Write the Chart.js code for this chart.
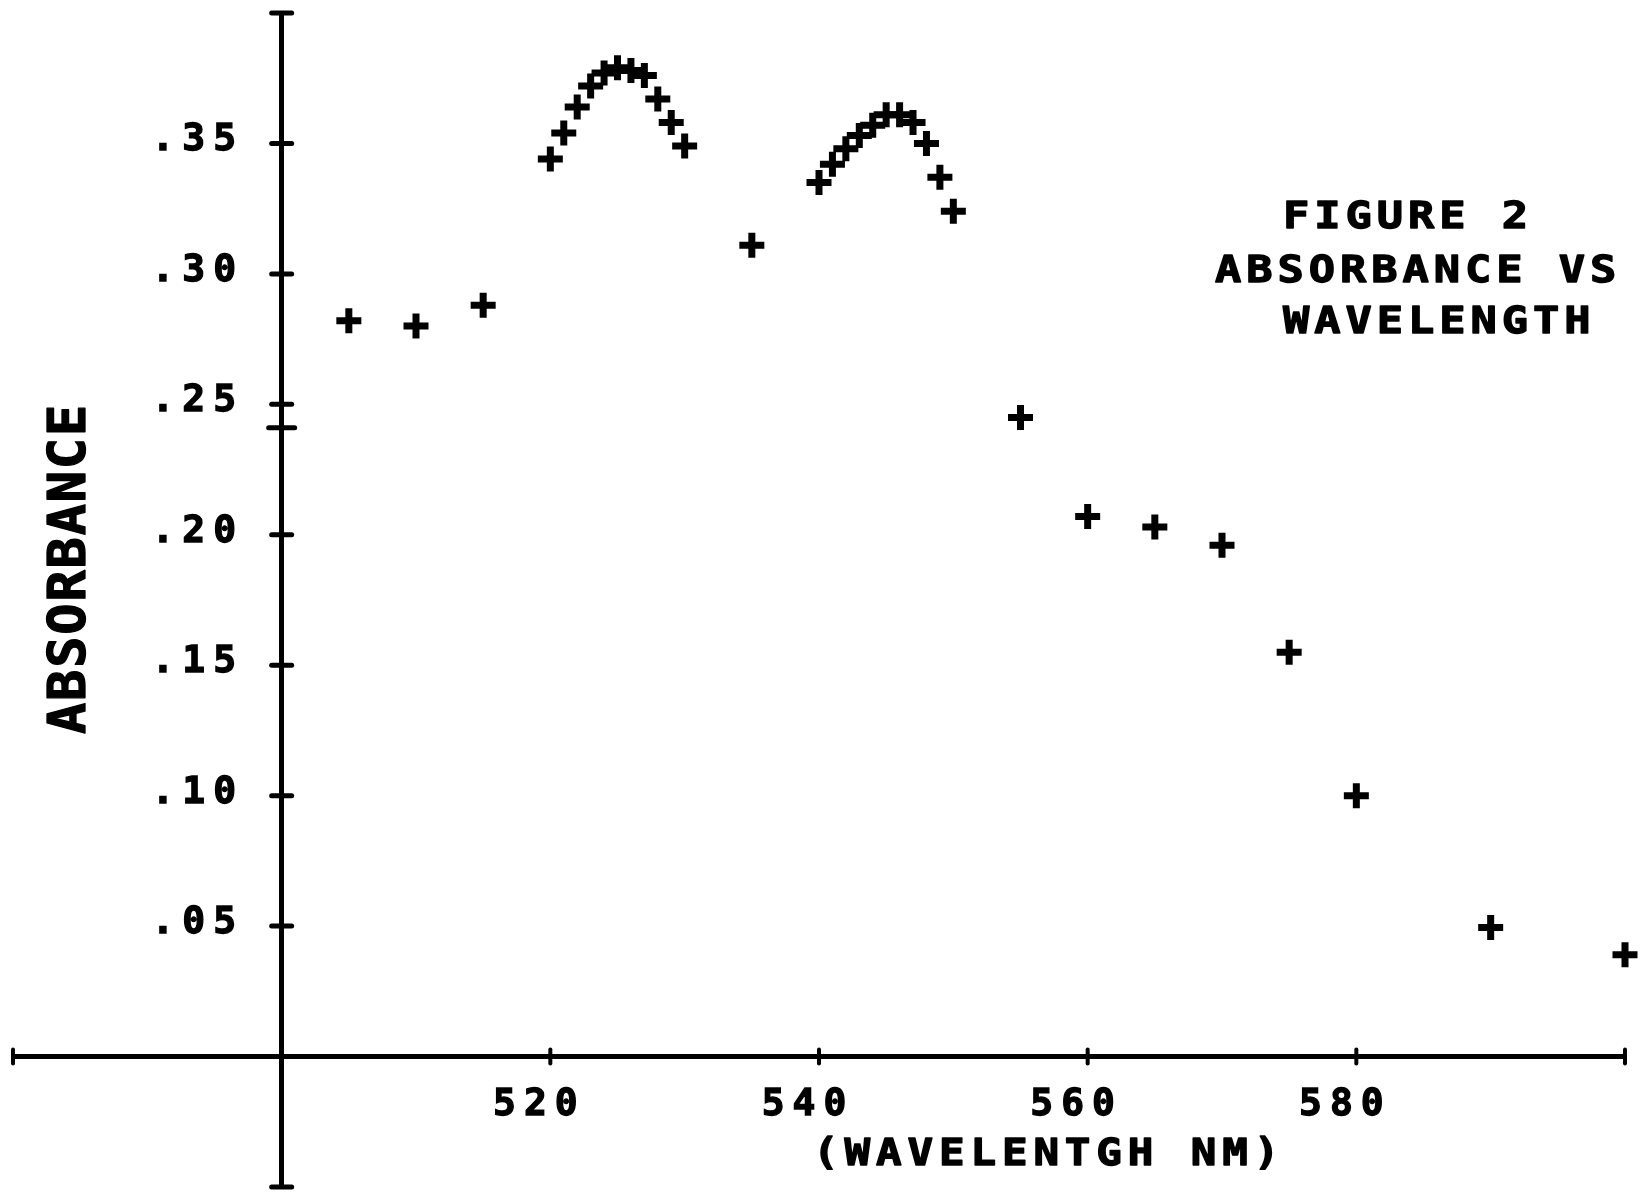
<!DOCTYPE html>
<html>
<head>
<meta charset="utf-8">
<script src="https://cdn.jsdelivr.net/npm/chart.js@4.4.1/dist/chart.umd.min.js"></script>
<style>
html,body{margin:0;padding:0;background:#fff;overflow:hidden}
#wrap{width:1649px;height:1193px;position:relative;background:#fff}
</style>
</head>
<body>
<div id="wrap"><canvas id="c"></canvas></div>
<script>
// ---- data ----
const wavelengths = [505, 510, 515, 520, 521, 522, 523, 524, 525, 526, 527, 528, 529, 530, 535,
                     540, 541, 542, 543, 544, 545, 546, 547, 548, 549, 550, 555, 560, 565, 570,
                     575, 580, 590, 600];
const absorbance  = [0.282, 0.280, 0.288, 0.344, 0.354, 0.364, 0.372, 0.377, 0.379, 0.378, 0.376, 0.367, 0.358, 0.349, 0.311,
                     0.335, 0.342, 0.348, 0.353, 0.357, 0.361, 0.361, 0.358, 0.350, 0.337, 0.324, 0.245, 0.207, 0.203, 0.196,
                     0.155, 0.100, 0.0495, 0.039];
const xTickLabels = [520, 540, 560, 580];
const yTickLabels = [0.05, 0.10, 0.15, 0.20, 0.25, 0.30, 0.35];
const xTickMarks  = [480, 520, 540, 560, 580, 600];
const yTickMarks  = [-0.05, 0.05, 0.10, 0.15, 0.20, 0.25, 0.30, 0.35, 0.40];
const yStrayMarks = [0.241];
const figureLines = ['FIGURE 2', 'ABSORBANCE VS', 'WAVELENGTH'];
const xTitle = '(WAVELENTGH NM)';
const yTitle = 'ABSORBANCE';

const FONT = '"DejaVu Sans Mono", monospace';

function plotText(ctx, str, x, y, size, sx, spacing, rot) {
  ctx.save();
  ctx.translate(x, y);
  if (rot) ctx.rotate(rot);
  ctx.scale(sx, 1);
  ctx.font = 'bold ' + size + 'px ' + FONT;
  ctx.letterSpacing = spacing + 'px';
  ctx.textAlign = 'left';
  ctx.textBaseline = 'alphabetic';
  ctx.fillStyle = '#000';
  ctx.strokeStyle = '#000';
  ctx.lineWidth = 1.3;
  ctx.lineJoin = 'round';
  ctx.fillText(str, 0, 0);
  ctx.strokeText(str, 0, 0);
  ctx.restore();
}

const plotterPlugin = {
  id: 'plotter',
  beforeDraw(chart) { chart.ctx.letterSpacing = '8px'; },
  afterDraw(chart) {
    const ctx = chart.ctx;
    const xs = chart.scales.x, ys = chart.scales.y;
    const ax = xs.getPixelForValue(500), ay = ys.getPixelForValue(0);
    ctx.save();
    ctx.strokeStyle = '#000';
    ctx.lineCap = 'round';
    ctx.lineWidth = 5;
    const seg = (x1, y1, x2, y2) => { ctx.beginPath(); ctx.moveTo(x1, y1); ctx.lineTo(x2, y2); ctx.stroke(); };
    yTickMarks.forEach(v => { const p = ys.getPixelForValue(v); seg(ax - 10, p, ax + 10, p); });
    yStrayMarks.forEach(v => { const p = ys.getPixelForValue(v); seg(ax - 13, p, ax + 13, p); });
    ctx.lineWidth = 4;
    xTickMarks.forEach(v => { const p = xs.getPixelForValue(v); seg(p, ay - 7, p, ay + 7); });
    ctx.restore();

    // annotation block
    plotText(ctx, figureLines[0], 1283, 228, 38, 1.15, 4.3);
    plotText(ctx, figureLines[1], 1215, 282, 38, 1.15, 4.3);
    plotText(ctx, figureLines[2], 1283, 333, 38, 1.15, 4.3);
    // axis titles
    plotText(ctx, xTitle, 813, 1165, 37, 1.15, 5.1);
    plotText(ctx, yTitle, 85, 734, 52, 1, 1.8, -Math.PI / 2);
  }
};

const xTickFont = { family: FONT, weight: 'bold', size: 38, lineHeight: 0.5 };
const yTickFont = { family: FONT, weight: 'bold', size: 38, lineHeight: 0.1 };

new Chart(document.getElementById('c'), {
  type: 'scatter',
  data: {
    datasets: [{
      data: wavelengths.map((w, i) => ({ x: w, y: absorbance[i] })),
      pointStyle: 'cross',
      pointRadius: 12.5,
      pointHoverRadius: 12.5,
      borderWidth: 7,
      borderColor: '#000',
      backgroundColor: '#000',
      clip: false
    }]
  },
  options: {
    responsive: true,
    maintainAspectRatio: false,
    animation: false,
    events: [],
    layout: { autoPadding: false, padding: { left: 13, right: 24, top: 13, bottom: 6 } },
    plugins: { legend: { display: false }, tooltip: { enabled: false }, title: { display: false } },
    scales: {
      x: {
        type: 'linear',
        position: { y: 0 },
        min: 480, max: 600,
        afterBuildTicks: s => { s.ticks = xTickLabels.map(v => ({ value: v })); },
        grid: { display: false },
        border: { display: true, color: '#000', width: 5 },
        ticks: {
          color: '#000', font: xTickFont, padding: 31, labelOffset: -11,
          textStrokeColor: '#000', textStrokeWidth: 1.3,
          maxRotation: 0, autoSkip: false,
          callback: v => String(v)
        }
      },
      y: {
        type: 'linear',
        position: { x: 500 },
        min: -0.05, max: 0.40,
        afterBuildTicks: s => { s.ticks = yTickLabels.map(v => ({ value: v })); },
        grid: { display: false },
        border: { display: true, color: '#000', width: 5 },
        ticks: { display: false }
      },
      yl: {
        type: 'linear',
        axis: 'y',
        position: { x: 497.2 },
        min: -0.05, max: 0.40,
        afterBuildTicks: s => { s.ticks = yTickLabels.map(v => ({ value: v })); },
        grid: { display: false },
        border: { display: false },
        ticks: {
          color: '#000', font: yTickFont, padding: 0, labelOffset: -3, autoSkip: false,
          textStrokeColor: '#000', textStrokeWidth: 1.3,
          callback: v => '.' + String(Math.round(v * 100)).padStart(2, '0')
        }
      }
    }
  },
  plugins: [plotterPlugin]
});
</script>
</body>
</html>
